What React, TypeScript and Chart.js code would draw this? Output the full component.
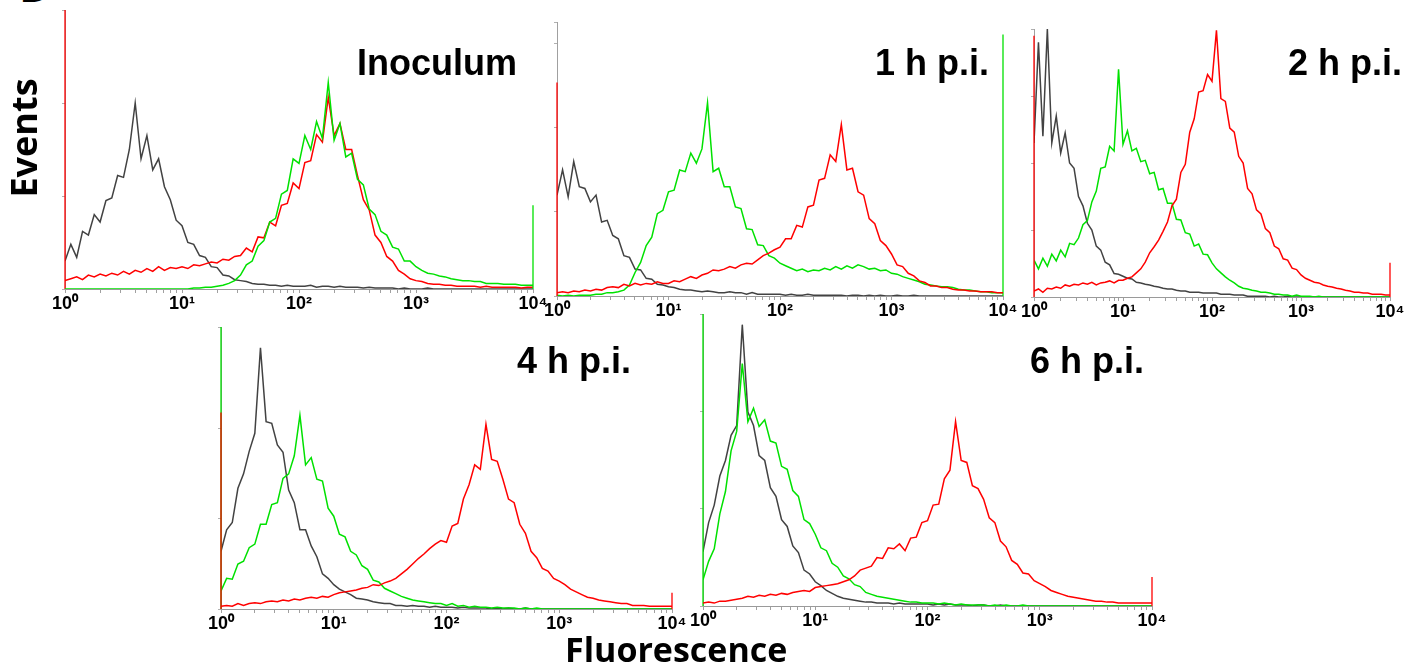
import React, { useEffect, useRef } from "react";
import { Chart, registerables } from "chart.js";

Chart.register(...registerables);

// Histogram channels: 20 bins per decade, from 10^0 to 10^4 (81 channels)
const BINS_PER_DECADE = 20;
const DECADE_VALUES = [1, 10, 100, 1000, 10000];
const DECADE_LABELS = ["10⁰", "10¹", "10²", "10³", "10⁴"];
const MINOR_MULTIPLIERS = [1, 2, 3, 4, 5, 6, 7, 8, 9];

// ---------- Inoculum ----------
const inoculumBlack = [
  30, 48, 34, 62, 58, 80, 72, 95, 98, 122,
  120, 150, 200, 140, 165, 128, 140, 110, 96, 74,
  68, 50, 48, 36, 34, 24, 23, 15, 14, 10,
  9, 8, 6, 5, 5, 4, 4, 3, 4, 3,
  3, 3, 4, 2, 3, 3, 2, 3, 2, 2,
  2, 1, 2, 1, 1, 1, 1, 0, 1, 0,
  0, 0, 1, 0, 0, 0, 0, 0, 0, 0,
  0, 0, 0, 0, 0, 0, 0, 0, 0, 0,
  0,
];
const inoculumGreen = [
  0, 0, 0, 0, 0, 0, 0, 0, 0, 0,
  0, 0, 0, 0, 0, 0, 0, 0, 0, 0,
  0, 0, 1, 1, 2, 2, 3, 4, 6, 9,
  15, 26, 30, 46, 52, 72, 76, 102, 106, 140,
  135, 165, 150, 180, 162, 222, 160, 178, 142, 146,
  118, 112, 86, 80, 62, 58, 45, 43, 30, 30,
  24, 20, 17, 16, 14, 13, 11, 10, 9, 9,
  8, 8, 6, 6, 6, 5, 5, 5, 4, 4,
  4,
];
const inoculumRed = [
  9, 11, 13, 10, 15, 13, 16, 14, 17, 15,
  19, 16, 20, 18, 22, 19, 24, 20, 23, 22,
  24, 22, 26, 25, 27, 29, 28, 32, 31, 35,
  36, 44, 40, 56, 55, 72, 68, 90, 92, 114,
  108, 136, 138, 166, 158, 206, 165, 178, 150, 150,
  122, 96, 85, 58, 50, 35, 30, 20, 16, 11,
  9, 8, 6, 5, 5, 4, 4, 3, 3, 3,
  3, 2, 3, 2, 2, 2, 2, 2, 1, 2,
  2,
];
// off-scale pile-up in the first / last channel: [black, green, red]
const inoculumFirstChannel = [0, 0, 330];
const inoculumLastChannel = [0, 90, 0];

// ---------- 1 h p.i. ----------
const oneHourBlack = [
  120, 150, 118, 160, 130, 128, 112, 120, 88, 90,
  72, 68, 48, 46, 32, 31, 21, 20, 14, 13,
  11, 10, 8, 7, 7, 6, 5, 6, 5, 4,
  4, 5, 4, 4, 2, 4, 2, 2, 2, 2,
  2, 1, 2, 1, 1, 2, 1, 1, 1, 1,
  1, 1, 0, 1, 1, 0, 1, 0, 1, 0,
  0, 1, 0, 0, 1, 0, 0, 0, 0, 0,
  0, 0, 0, 0, 0, 0, 0, 0, 0, 0,
  0,
];
const oneHourGreen = [
  1, 0, 1, 0, 1, 1, 1, 2, 2, 4,
  4, 5, 7, 13, 28, 40, 60, 70, 98, 102,
  124, 126, 150, 148, 170, 158, 175, 230, 148, 152,
  130, 130, 106, 104, 80, 79, 61, 60, 48, 45,
  39, 36, 33, 30, 32, 29, 31, 30, 33, 31,
  35, 32, 36, 33, 37, 35, 32, 33, 30, 31,
  27, 26, 23, 21, 19, 17, 14, 13, 12, 11,
  11, 10, 8, 7, 7, 6, 5, 5, 4, 4,
  4,
];
const oneHourRed = [
  4, 5, 4, 6, 5, 7, 6, 8, 7, 10,
  11, 10, 14, 12, 15, 13, 15, 14, 17, 15,
  15, 18, 17, 20, 23, 21, 25, 27, 31, 30,
  32, 35, 33, 37, 39, 38, 43, 48, 51, 55,
  58, 68, 68, 84, 82, 106, 108, 138, 140, 168,
  160, 204, 150, 152, 124, 120, 92, 86, 66, 60,
  50, 37, 35, 27, 24, 18, 16, 12, 12, 10,
  10, 8, 7, 7, 6, 6, 5, 5, 5, 4,
  4,
];
const oneHourFirstChannel = [0, 0, 254];
const oneHourLastChannel = [0, 311, 0];

// ---------- 2 h p.i. ----------
const twoHourBlack = [
  230, 380, 240, 400, 230, 270, 215, 245, 200, 192,
  150, 136, 110, 100, 76, 70, 52, 48, 35, 34,
  31, 28, 27, 22, 21, 19, 18, 16, 15, 13,
  12, 12, 10, 9, 9, 7, 7, 7, 6, 6,
  6, 6, 4, 4, 4, 3, 3, 3, 1, 1,
  1, 1, 1, 0, 1, 0, 0, 1, 0, 0,
  0, 0, 0, 0, 0, 0, 0, 0, 0, 0,
  0, 0, 0, 0, 0, 0, 0, 0, 0, 0,
  0,
];
const twoHourGreen = [
  55, 42, 58, 46, 64, 54, 70, 60, 80, 78,
  88, 108, 114, 142, 158, 192, 194, 225, 218, 340,
  228, 248, 218, 222, 202, 204, 184, 186, 160, 162,
  140, 140, 116, 115, 96, 94, 76, 79, 64, 63,
  51, 42, 36, 30, 25, 21, 16, 13, 12, 10,
  9, 7, 7, 6, 4, 4, 3, 3, 1, 3,
  1, 1, 1, 0, 1, 0, 0, 0, 0, 0,
  0, 0, 0, 0, 0, 0, 0, 0, 0, 0,
  0,
];
const twoHourRed = [
  9, 12, 7, 13, 12, 15, 13, 18, 16, 19,
  18, 21, 19, 22, 18, 21, 22, 24, 21, 25,
  25, 28, 30, 36, 42, 52, 66, 75, 85, 98,
  112, 136, 146, 186, 198, 246, 266, 306, 308, 332,
  322, 398, 296, 292, 252, 246, 210, 200, 162, 154,
  130, 124, 102, 96, 76, 72, 57, 55, 43, 41,
  33, 28, 25, 22, 21, 18, 16, 15, 13, 12,
  10, 9, 7, 7, 6, 6, 4, 4, 4, 3,
  3,
];
const twoHourFirstChannel = [0, 0, 390];
const twoHourLastChannel = [0, 0, 51];

// ---------- 4 h p.i. ----------
const fourHourBlack = [
  64, 88, 96, 134, 150, 175, 195, 290, 208, 206,
  182, 174, 132, 118, 88, 88, 70, 58, 39, 34,
  27, 22, 19, 16, 12, 11, 10, 8, 7, 6,
  6, 4, 4, 3, 4, 3, 3, 2, 3, 2,
  2, 2, 1, 2, 1, 1, 1, 1, 0, 1,
  0, 1, 0, 0, 1, 0, 0, 0, 0, 0,
  0, 0, 0, 0, 0, 0, 0, 0, 0, 0,
  0, 0, 0, 0, 0, 0, 0, 0, 0, 0,
  0,
];
const fourHourGreen = [
  20, 34, 33, 50, 53, 68, 72, 94, 94, 116,
  118, 145, 150, 170, 215, 160, 168, 144, 142, 112,
  103, 83, 80, 64, 60, 48, 44, 32, 30, 23,
  20, 17, 14, 12, 10, 9, 8, 7, 6, 6,
  4, 6, 3, 4, 2, 3, 2, 2, 1, 2,
  1, 1, 1, 0, 1, 0, 1, 0, 0, 0,
  0, 0, 0, 0, 0, 0, 0, 0, 0, 0,
  0, 0, 0, 0, 0, 0, 0, 0, 0, 0,
  0,
];
const fourHourRed = [
  3, 4, 3, 6, 4, 6, 7, 6, 8, 9,
  8, 10, 9, 11, 10, 12, 13, 12, 14, 13,
  16, 18, 19, 20, 21, 23, 24, 27, 26, 29,
  31, 34, 39, 44, 50, 56, 61, 67, 72, 76,
  74, 92, 95, 122, 138, 160, 155, 205, 166, 164,
  144, 122, 118, 94, 84, 64, 57, 45, 42, 34,
  31, 27, 22, 19, 16, 13, 12, 10, 9, 8,
  7, 6, 6, 4, 4, 4, 3, 3, 3, 3,
  3,
];
const fourHourFirstChannel = [0, 400, 218];
const fourHourLastChannel = [0, 0, 18];

// ---------- 6 h p.i. ----------
const sixHourBlack = [
  56, 86, 104, 134, 150, 176, 186, 290, 200, 186,
  155, 150, 122, 113, 89, 82, 62, 55, 37, 33,
  25, 21, 16, 13, 10, 8, 7, 6, 5, 4,
  4, 3, 3, 3, 2, 3, 2, 2, 2, 2,
  2, 1, 2, 1, 2, 1, 1, 1, 0, 1,
  1, 0, 0, 1, 0, 0, 0, 0, 0, 0,
  0, 0, 0, 0, 0, 0, 0, 0, 0, 0,
  0, 0, 0, 0, 0, 0, 0, 0, 0, 0,
  0,
];
const sixHourGreen = [
  27, 46, 59, 95, 118, 160, 180, 250, 190, 204,
  185, 192, 170, 168, 144, 141, 119, 113, 89, 85,
  74, 60, 57, 44, 40, 31, 28, 22, 20, 14,
  12, 10, 9, 8, 7, 6, 5, 4, 4, 3,
  3, 3, 2, 3, 2, 1, 2, 1, 1, 1,
  1, 0, 1, 0, 1, 0, 0, 1, 0, 0,
  0, 0, 0, 0, 0, 0, 0, 0, 0, 0,
  0, 0, 0, 0, 0, 0, 0, 0, 0, 0,
  0,
];
const sixHourRed = [
  3, 4, 3, 5, 5, 6, 7, 8, 10, 9,
  11, 10, 12, 11, 13, 12, 14, 15, 16, 15,
  19, 20, 21, 22, 23, 25, 27, 31, 37, 39,
  41, 50, 49, 60, 59, 64, 57, 70, 71, 86,
  88, 104, 105, 131, 140, 190, 150, 148, 124, 121,
  110, 91, 86, 67, 61, 47, 43, 34, 33, 26,
  23, 20, 16, 14, 12, 10, 9, 8, 7, 6,
  5, 5, 4, 4, 3, 3, 3, 3, 3, 3,
  3,
];
const sixHourFirstChannel = [0, 400, 0];
const sixHourLastChannel = [0, 0, 30];

const SERIES_COLORS = ["rgba(45,45,45,0.9)", "rgb(0,225,0)", "rgb(255,0,0)"];

type PanelDef = {
  title: string;
  series: number[][]; // [black, green, red]
  first: number[];
  last: number[];
  yMax: number;
  topOrder: number[]; // series indices, top-most first
  x0: number;
  x4: number;
  yTop: number;
  yBase: number;
  titleLeft: number;
  titleBaseline: number;
};

const PANELS: PanelDef[] = [
  {
    title: "Inoculum",
    series: [inoculumBlack, inoculumGreen, inoculumRed],
    first: inoculumFirstChannel,
    last: inoculumLastChannel,
    yMax: 300,
    topOrder: [1, 2, 0],
    x0: 65, x4: 533, yTop: 10, yBase: 289,
    titleLeft: 357, titleBaseline: 75,
  },
  {
    title: "1 h p.i.",
    series: [oneHourBlack, oneHourGreen, oneHourRed],
    first: oneHourFirstChannel,
    last: oneHourLastChannel,
    yMax: 326,
    topOrder: [2, 1, 0],
    x0: 557, x4: 1003, yTop: 22, yBase: 296,
    titleLeft: 875, titleBaseline: 75,
  },
  {
    title: "2 h p.i.",
    series: [twoHourBlack, twoHourGreen, twoHourRed],
    first: twoHourFirstChannel,
    last: twoHourLastChannel,
    yMax: 400,
    topOrder: [2, 1, 0],
    x0: 1034, x4: 1390, yTop: 29, yBase: 297,
    titleLeft: 1288, titleBaseline: 75,
  },
  {
    title: "4 h p.i.",
    series: [fourHourBlack, fourHourGreen, fourHourRed],
    first: fourHourFirstChannel,
    last: fourHourLastChannel,
    yMax: 313,
    topOrder: [2, 1, 0],
    x0: 221, x4: 672, yTop: 327, yBase: 609,
    titleLeft: 517, titleBaseline: 373,
  },
  {
    title: "6 h p.i.",
    series: [sixHourBlack, sixHourGreen, sixHourRed],
    first: sixHourFirstChannel,
    last: sixHourLastChannel,
    yMax: 301,
    topOrder: [2, 1, 0],
    x0: 703, x4: 1152, yTop: 314, yBase: 606,
    titleLeft: 1030, titleBaseline: 373,
  },
];

const X_TICKS: number[] = [];
DECADE_VALUES.slice(0, 4).forEach((d) => MINOR_MULTIPLIERS.forEach((k) => X_TICKS.push(d * k)));
X_TICKS.push(10000);

const AXIS_W = 20;
const PAD_T = 2;
const PAD_R = 22;
const AXIS_H = 30;

function Histogram({ p }: { p: PanelDef }) {
  const ref = useRef<HTMLCanvasElement>(null);
  const width = p.x4 - p.x0 + AXIS_W + PAD_R;
  const height = p.yBase - p.yTop + PAD_T + AXIS_H;

  useEffect(() => {
    const datasets: any[] = [];
    const spikeClip = { left: 3, right: 3, top: 0, bottom: 0 };
    p.topOrder.forEach((si) => {
      const vals = p.series[si];
      const color = SERIES_COLORS[si];
      if (p.first[si] > 0) {
        datasets.push({
          data: [{ x: 1, y: 0 }, { x: 1, y: p.first[si] }],
          borderColor: color, borderWidth: 1.3, clip: spikeClip,
        });
      }
      if (p.last[si] > 0) {
        datasets.push({
          data: [{ x: 10000, y: 0 }, { x: 10000, y: p.last[si] }],
          borderColor: color, borderWidth: 1.3, clip: spikeClip,
        });
      }
      datasets.push({
        data: vals.map((y, i) => ({ x: Math.pow(10, i / BINS_PER_DECADE), y })),
        borderColor: color,
        borderWidth: 1.5,
      });
    });

    const chart = new Chart(ref.current!, {
      type: "line",
      data: { datasets },
      options: {
        animation: false,
        responsive: false,
        devicePixelRatio: 1,
        layout: { padding: { left: 0, top: PAD_T, right: PAD_R, bottom: 0 } },
        plugins: {
          legend: { display: false },
          tooltip: { enabled: false },
          title: { display: false },
        },
        elements: {
          point: { radius: 0 },
          line: { tension: 0, fill: false },
        },
        scales: {
          x: {
            type: "logarithmic",
            min: 1,
            max: 10000,
            afterBuildTicks: (s: any) => {
              s.ticks = X_TICKS.map((v) => ({ value: v }));
            },
            afterFit: (s: any) => {
              s.height = AXIS_H;
              s.paddingLeft = 0;
              s.paddingRight = 0;
            },
            ticks: {
              autoSkip: false,
              maxRotation: 0,
              minRotation: 0,
              padding: 0,
              color: "#000",
              font: { family: '"Liberation Sans", Arial, sans-serif', size: 18, weight: "bold" },
              callback: (v: any) => {
                const i = DECADE_VALUES.indexOf(Number(v));
                return i >= 0 ? DECADE_LABELS[i] : "";
              },
            },
            grid: { drawOnChartArea: false, drawTicks: true, tickLength: 4, color: "#a0a0a0" },
            border: { color: "#9a9a9a", width: 1 },
          },
          y: {
            min: 0,
            max: p.yMax,
            afterFit: (s: any) => {
              s.width = AXIS_W;
              s.paddingTop = 0;
              s.paddingBottom = 0;
            },
            ticks: { display: false, stepSize: 100 },
            grid: { drawOnChartArea: false, drawTicks: true, tickLength: 3, color: "#b0b0b0" },
            border: { color: "#a0a0a0", width: 1 },
          },
        },
      } as any,
    });
    return () => chart.destroy();
  }, []);

  return (
    <canvas
      ref={ref}
      width={width}
      height={height}
      style={{
        position: "absolute",
        left: p.x0 - AXIS_W,
        top: p.yTop - PAD_T,
        width,
        height,
      }}
    />
  );
}

const titleFont = '"Liberation Sans", Arial, sans-serif';
const labelFont = '"Open Sans", "Liberation Sans", sans-serif';

export default function App() {
  return (
    <div
      style={{
        position: "absolute",
        left: 0,
        top: 0,
        width: 1412,
        height: 669,
        background: "#fff",
        overflow: "hidden",
      }}
    >
      <div
        style={{
          position: "absolute",
          left: 19,
          top: -37,
          fontFamily: labelFont,
          fontWeight: 700,
          fontSize: 44,
          lineHeight: "44px",
          color: "#000",
        }}
      >
        D
      </div>
      {PANELS.map((p) => (
        <Histogram key={p.title} p={p} />
      ))}
      {PANELS.map((p) => (
        <div
          key={"t" + p.title}
          style={{
            position: "absolute",
            left: p.titleLeft,
            top: p.titleBaseline - 30.5,
            fontFamily: titleFont,
            fontWeight: 700,
            fontSize: 36,
            lineHeight: "36px",
            whiteSpace: "nowrap",
            color: "#000",
          }}
        >
          {p.title}
        </div>
      ))}
      <div
        style={{
          position: "absolute",
          left: 24 - 65,
          top: 137.5 - 18,
          width: 130,
          height: 36,
          textAlign: "center",
          fontFamily: labelFont,
          fontWeight: 700,
          fontSize: 36,
          lineHeight: "36px",
          transform: "rotate(-90deg)",
          transformOrigin: "50% 50%",
          whiteSpace: "nowrap",
          color: "#000",
        }}
      >
        Events
      </div>
      <div
        style={{
          position: "absolute",
          left: 565,
          top: 632,
          fontFamily: labelFont,
          fontWeight: 700,
          fontSize: 34,
          lineHeight: "34px",
          whiteSpace: "nowrap",
          color: "#000",
        }}
      >
        Fluorescence
      </div>
    </div>
  );
}
